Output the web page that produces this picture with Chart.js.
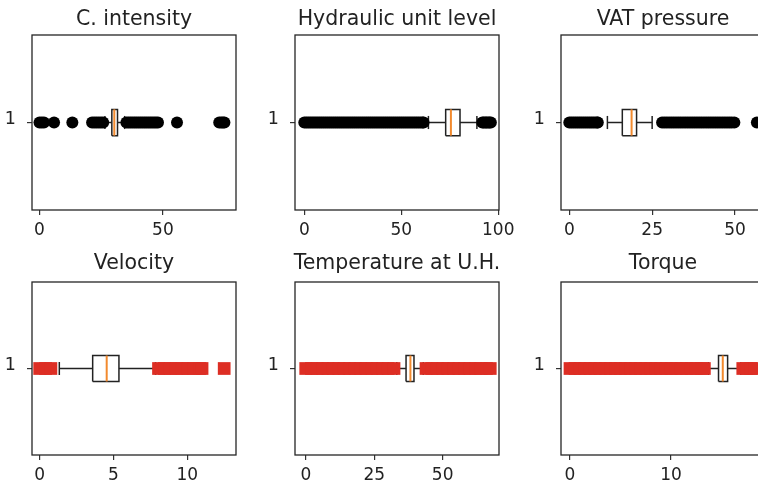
<!DOCTYPE html>
<html>
<head>
<meta charset="utf-8">
<script src="https://cdn.jsdelivr.net/npm/chart.js@4.4.0/dist/chart.umd.min.js"></script>
<style>
  html, body { margin: 0; padding: 0; background: #fff; }
  #fig { position: relative; width: 758px; height: 484px; overflow: hidden; background: #fff; }
  #fig canvas { position: absolute; }
</style>
</head>
<body>
<div id="fig"></div>
<script>
// ---- data -------------------------------------------------------------
const titles = ['C. intensity', 'Hydraulic unit level', 'VAT pressure',
                'Velocity', 'Temperature at U.H.', 'Torque'];

// box statistics per variable
const q1          = [29.3, 72.9, 16.0, 3.59, 36.6, 14.7];
const medians     = [30.3, 75.6, 18.8, 4.54, 38.2, 15.12];
const q3          = [31.6, 80.3, 20.3, 5.37, 39.5, 15.6];
const whiskerLow  = [26.5, 64.0, 11.5, 1.33, 33.2, 13.7];
const whiskerHigh = [34.5, 89.0, 25.0, 7.85, 42.9, 16.9];

// outliers per variable
const fliersCIntensity = [0, 0.9, 1.8, 5.9, 13.3,
  21.3, 22.2, 23.1, 24, 24.9, 25.8,
  35.2, 36, 36.8, 37.6, 38.4, 39.2, 40, 40.8, 41.6, 42.4, 43.2, 44, 44.8, 45.6,
  46.4, 47.2, 48, 55.7, 72.8, 73.6, 74.3, 74.9];
const fliersHydraulic = [0, 1, 2, 3, 4, 5, 6, 7, 8, 9, 10, 11, 12, 13, 14, 15, 16,
  17, 18, 19, 20, 21, 22, 23, 24, 25, 26, 27, 28, 29, 30, 31, 32, 33, 34, 35, 36,
  37, 38, 39, 40, 41, 42, 43, 44, 45, 46, 47, 48, 49, 50, 51, 52, 53, 54, 55, 56,
  57, 58, 59, 60, 61, 61.5,
  91.8, 92.5, 93.3, 94, 94.8, 95.5, 96.2];
const fliersVAT = [0, 0.6, 1.2, 1.8, 2.4, 3, 3.6, 4.2, 4.8, 5.4, 6, 6.6, 7.2, 7.8,
  8.4, 8.6,
  28, 28.7, 29.4, 30.1, 30.8, 31.5, 32.2, 32.9, 33.6, 34.3, 35, 35.7, 36.4, 37.1,
  37.8, 38.5, 39.2, 39.9, 40.6, 41.3, 42, 42.7, 43.4, 44.1, 44.8, 45.5, 46.2, 46.9,
  47.6, 48.3, 49, 49.8, 56.6];
const fliersVelocity = [0, 0.4, 0.76, 8.05, 8.45, 8.85, 9.25, 9.65, 10.05, 10.45,
  10.85, 11.0, 12.5];
const fliersTemperature = [-0.1, 2, 4, 6, 8, 10, 12, 14, 16, 18, 20, 22, 24, 26,
  28, 30, 32.2, 43.9, 46, 48, 50, 52, 54, 56, 58, 60, 62, 64, 66, 67.4];
const fliersTorque = [0, 0.5, 1, 1.5, 2, 2.5, 3, 3.5, 4, 4.5, 5, 5.5, 6, 6.5, 7,
  7.5, 8, 8.5, 9, 9.5, 10, 10.5, 11, 11.5, 12, 12.5, 13, 13.3,
  17.1, 17.5, 17.9, 18.3];
const fliers = [fliersCIntensity, fliersHydraulic, fliersVAT,
                fliersVelocity, fliersTemperature, fliersTorque];

// axis ticks
const ticksCIntensity  = [0, 50];
const ticksHydraulic   = [0, 50, 100];
const ticksVAT         = [0, 25, 50];
const ticksVelocity    = [0, 5, 10];
const ticksTemperature = [0, 25, 50];
const ticksTorque      = [0, 10];
const xTicks = [ticksCIntensity, ticksHydraulic, ticksVAT,
                ticksVelocity, ticksTemperature, ticksTorque];
const yTickLabels = ['1'];

// ---- layout / styling -------------------------------------------------
const xLimits = [[-3.04, 79.6], [-4.8, 100.4], [-2.5, 59.05],
                 [-0.52, 13.3], [-4.02, 70.6], [-0.89, 19.3]];
const frames = [
  { left: 32,  top: 35,  h: 175, padB: 30, titleTop: 7.7, titleBottom: 2.7 },
  { left: 295, top: 35,  h: 175, padB: 30, titleTop: 7.7, titleBottom: 2.7 },
  { left: 561, top: 35,  h: 175, padB: 30, titleTop: 7.7, titleBottom: 2.7 },
  { left: 32,  top: 282, h: 173, padB: 29, titleTop: 4.7, titleBottom: 5.7 },
  { left: 295, top: 282, h: 173, padB: 29, titleTop: 4.7, titleBottom: 5.7 },
  { left: 561, top: 282, h: 173, padB: 29, titleTop: 4.7, titleBottom: 5.7 }
];
const FRAME_W = 204, SIDE = 40, HEAD = 35;
const INK = '#222222';
const MEDIAN_COLOR = '#f28a2e';
const flierStyle = [
  { style: 'circle', radius: 6, color: '#000000' },
  { style: 'circle', radius: 6, color: '#000000' },
  { style: 'circle', radius: 6, color: '#000000' },
  { style: 'rect',   radius: 9, color: '#dd2e24' },
  { style: 'rect',   radius: 9, color: '#dd2e24' },
  { style: 'rect',   radius: 9, color: '#dd2e24' }
];
const BOX_HALF = 0.075;   // half of box width in y units
const CAP_HALF = 0.0375;  // half of cap length in y units

Chart.defaults.font.family = 'DejaVu Sans';
Chart.defaults.color = INK;

// axes frame drawn around the plot area
const framePlugin = {
  id: 'axesFrame',
  afterDraw(chart) {
    const { ctx, chartArea: a } = chart;
    ctx.save();
    ctx.strokeStyle = '#262626';
    ctx.lineWidth = 1.3;
    ctx.strokeRect(a.left, a.top, a.right - a.left, a.bottom - a.top);
    ctx.restore();
  }
};

function segment(points, color, width) {
  return {
    data: points,
    showLine: true,
    borderColor: color,
    borderWidth: width,
    pointRadius: 0,
    pointHoverRadius: 0,
    fill: false,
    borderCapStyle: 'butt',
    borderJoinStyle: 'miter'
  };
}

function makePanel(i) {
  const f = frames[i];
  const canvas = document.createElement('canvas');
  const w = FRAME_W + 2 * SIDE;
  const h = HEAD + f.h + f.padB;
  canvas.width = w;
  canvas.height = h;
  canvas.style.left = (f.left - SIDE) + 'px';
  canvas.style.top = (f.top - HEAD) + 'px';
  canvas.style.width = w + 'px';
  canvas.style.height = h + 'px';
  document.getElementById('fig').appendChild(canvas);

  const st = flierStyle[i];
  const lo = whiskerLow[i], hi = whiskerHigh[i];
  const a = q1[i], b = q3[i], m = medians[i];

  const datasets = [
    {
      data: fliers[i].map(v => ({ x: v, y: 1 })),
      showLine: false,
      pointStyle: st.style,
      pointRadius: st.radius,
      pointHoverRadius: st.radius,
      pointBackgroundColor: st.color,
      pointBorderColor: st.color,
      pointBorderWidth: 0
    },
    segment([{ x: m, y: 1 - BOX_HALF }, { x: m, y: 1 + BOX_HALF }], MEDIAN_COLOR, 2),
    segment([{ x: a, y: 1 - BOX_HALF }, { x: b, y: 1 - BOX_HALF }, { x: b, y: 1 + BOX_HALF },
             { x: a, y: 1 + BOX_HALF }, { x: a, y: 1 - BOX_HALF }], INK, 1.5),
    segment([{ x: lo, y: 1 }, { x: a, y: 1 }], INK, 1.5),
    segment([{ x: b, y: 1 }, { x: hi, y: 1 }], INK, 1.5),
    segment([{ x: lo, y: 1 - CAP_HALF }, { x: lo, y: 1 + CAP_HALF }], INK, 1.5),
    segment([{ x: hi, y: 1 - CAP_HALF }, { x: hi, y: 1 + CAP_HALF }], INK, 1.5)
  ];

  const tickGrid = { display: true, drawOnChartArea: false, drawTicks: true,
                     tickLength: 5, color: '#333333', lineWidth: 1.2 };

  new Chart(canvas, {
    type: 'scatter',
    data: { datasets },
    options: {
      responsive: false,
      animation: false,
      devicePixelRatio: 1,
      events: [],
      layout: { padding: 0 },
      plugins: {
        legend: { display: false },
        tooltip: { enabled: false },
        title: {
          display: true,
          text: titles[i],
          color: INK,
          font: { size: 20.5, weight: 'normal', lineHeight: 1.2 },
          padding: { top: f.titleTop, bottom: f.titleBottom }
        }
      },
      scales: {
        x: {
          type: 'linear',
          position: 'bottom',
          min: xLimits[i][0],
          max: xLimits[i][1],
          grid: tickGrid,
          border: { display: false },
          ticks: { font: { size: 17 }, color: INK, padding: 5, maxRotation: 0 },
          afterBuildTicks: s => { s.ticks = xTicks[i].map(v => ({ value: v })); },
          afterFit: s => { s.height = f.padB; }
        },
        y: {
          type: 'linear',
          position: 'left',
          min: 0.5,
          max: 1.5,
          grid: tickGrid,
          border: { display: false },
          ticks: { font: { size: 17.5 }, color: INK, padding: 11, labelOffset: -3,
                   callback: () => yTickLabels[0] },
          afterBuildTicks: s => { s.ticks = [{ value: 1 }]; },
          afterFit: s => { s.width = SIDE; }
        },
        yRight: {
          type: 'linear',
          position: 'right',
          display: true,
          grid: { display: false },
          border: { display: false },
          ticks: { display: false },
          afterFit: s => { s.width = SIDE; }
        }
      }
    },
    plugins: [framePlugin]
  });
}

for (let i = 0; i < titles.length; i++) makePanel(i);
</script>
</body>
</html>
